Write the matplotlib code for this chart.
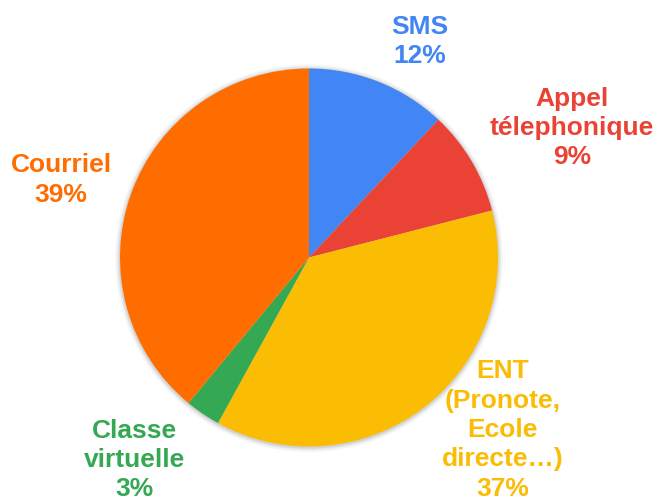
import matplotlib

matplotlib.use("Agg")
import matplotlib.pyplot as plt
from matplotlib.patches import Circle

labels = ["SMS", "Appel\ntélephonique", "ENT\n(Pronote,\nEcole\ndirecte…)", "Classe\nvirtuelle", "Courriel"]
shares = [12, 9, 37, 3, 39]
colors = ["#4285F4", "#EA4335", "#FBBC04", "#34A853", "#FF6D01"]
# label anchor positions in units of the pie radius
label_pos = [(0.587, 1.143), (1.392, 0.685), (1.026, -0.913), (-0.921, -1.071), (-1.312, 0.41)]

plt.rcParams["font.family"] = ["Liberation Sans", "DejaVu Sans"]

fig = plt.figure(figsize=(6.59, 5.01), dpi=100)
ax = fig.add_axes([0, 0, 1, 1])

# faint drop shadow around the pie
for r, a in [(1.025, 0.04), (1.015, 0.06), (1.007, 0.08)]:
  ax.add_patch(Circle((0.0, -0.004), r, color="#000000", alpha=a, lw=0, zorder=0))

ax.pie(shares, colors=colors, startangle=90, counterclock=False,
       radius=1.0, wedgeprops={"linewidth": 0, "zorder": 1})

total = sum(shares)
for text, value, color, (x, y) in zip(labels, shares, colors, label_pos):
  pct = round(100 * value / total)
  ax.text(x, y, f"{text}\n{pct}%", color=color, fontsize=19, fontweight="bold",
          ha="center", va="center", linespacing=1.28)

ax.set_aspect("auto")
ax.set_xlim(-309 / 189, 350 / 189)
ax.set_ylim(-243.5 / 189, 257.5 / 189)
ax.axis("off")
fig.savefig("out.png", dpi=100, facecolor="white")
